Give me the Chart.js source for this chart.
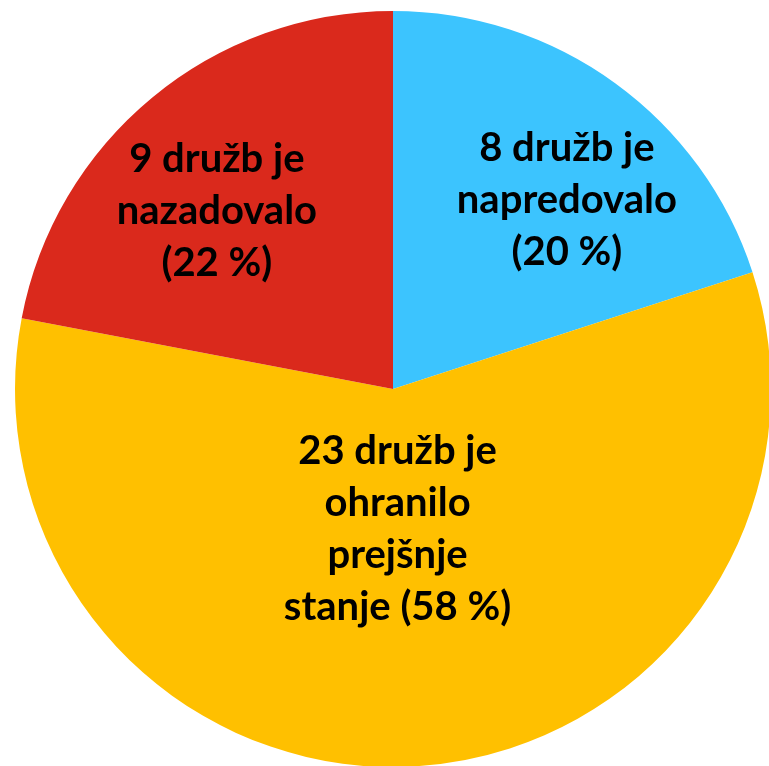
<!DOCTYPE html>
<html>
<head>
<meta charset="utf-8">
<script src="https://cdn.jsdelivr.net/npm/chart.js@4.4.0/dist/chart.umd.min.js"></script>
<style>
html,body{margin:0;padding:0;background:#fff;overflow:hidden;}
#wrap{position:relative;width:786px;height:778px;}
</style>
</head>
<body>
<div id="wrap"><canvas id="c"></canvas></div>
<script>
const categories = ["napredovalo", "ohranilo prejšnje stanje", "nazadovalo"];
const counts = [8, 23, 9];
const percents = [20, 58, 22];
const labelLines = [
  ["8 družb je", "napredovalo", "(20 %)"],
  ["23 družb je", "ohranilo", "prejšnje", "stanje (58 %)"],
  ["9 družb je", "nazadovalo", "(22 %)"]
];
const colors = ["#3CC4FE", "#FFC000", "#DA291C"];
// label anchor offsets as fraction of radius from pie centre
const labelOffsets = [[0.46, -0.50], [0.012, 0.37], [-0.466, -0.47]];

const labelPlugin = {
  id: 'sliceLabels',
  afterDatasetsDraw(chart) {
    const ctx = chart.ctx;
    const meta = chart.getDatasetMeta(0);
    ctx.save();
    ctx.fillStyle = '#000';
    ctx.font = 'bold 40px Lato, "Open Sans", sans-serif';
    ctx.textAlign = 'center';
    ctx.textBaseline = 'middle';
    const lh = 52;
    meta.data.forEach((arc, i) => {
      const cx = arc.x + labelOffsets[i][0] * arc.outerRadius;
      const cy = arc.y + labelOffsets[i][1] * arc.outerRadius;
      const lines = labelLines[i];
      const y0 = cy - (lines.length - 1) * lh / 2;
      lines.forEach((t, k) => ctx.fillText(t, cx, y0 + k * lh));
    });
    ctx.restore();
  }
};

new Chart(document.getElementById('c'), {
  type: 'pie',
  data: {
    labels: categories,
    datasets: [{ data: percents, backgroundColor: colors, borderWidth: 0, hoverOffset: 0 }]
  },
  options: {
    responsive: true,
    maintainAspectRatio: false,
    animation: false,
    layout: { padding: 11 },
    plugins: { legend: { display: false }, tooltip: { enabled: false } }
  },
  plugins: [labelPlugin]
});
</script>
</body>
</html>
